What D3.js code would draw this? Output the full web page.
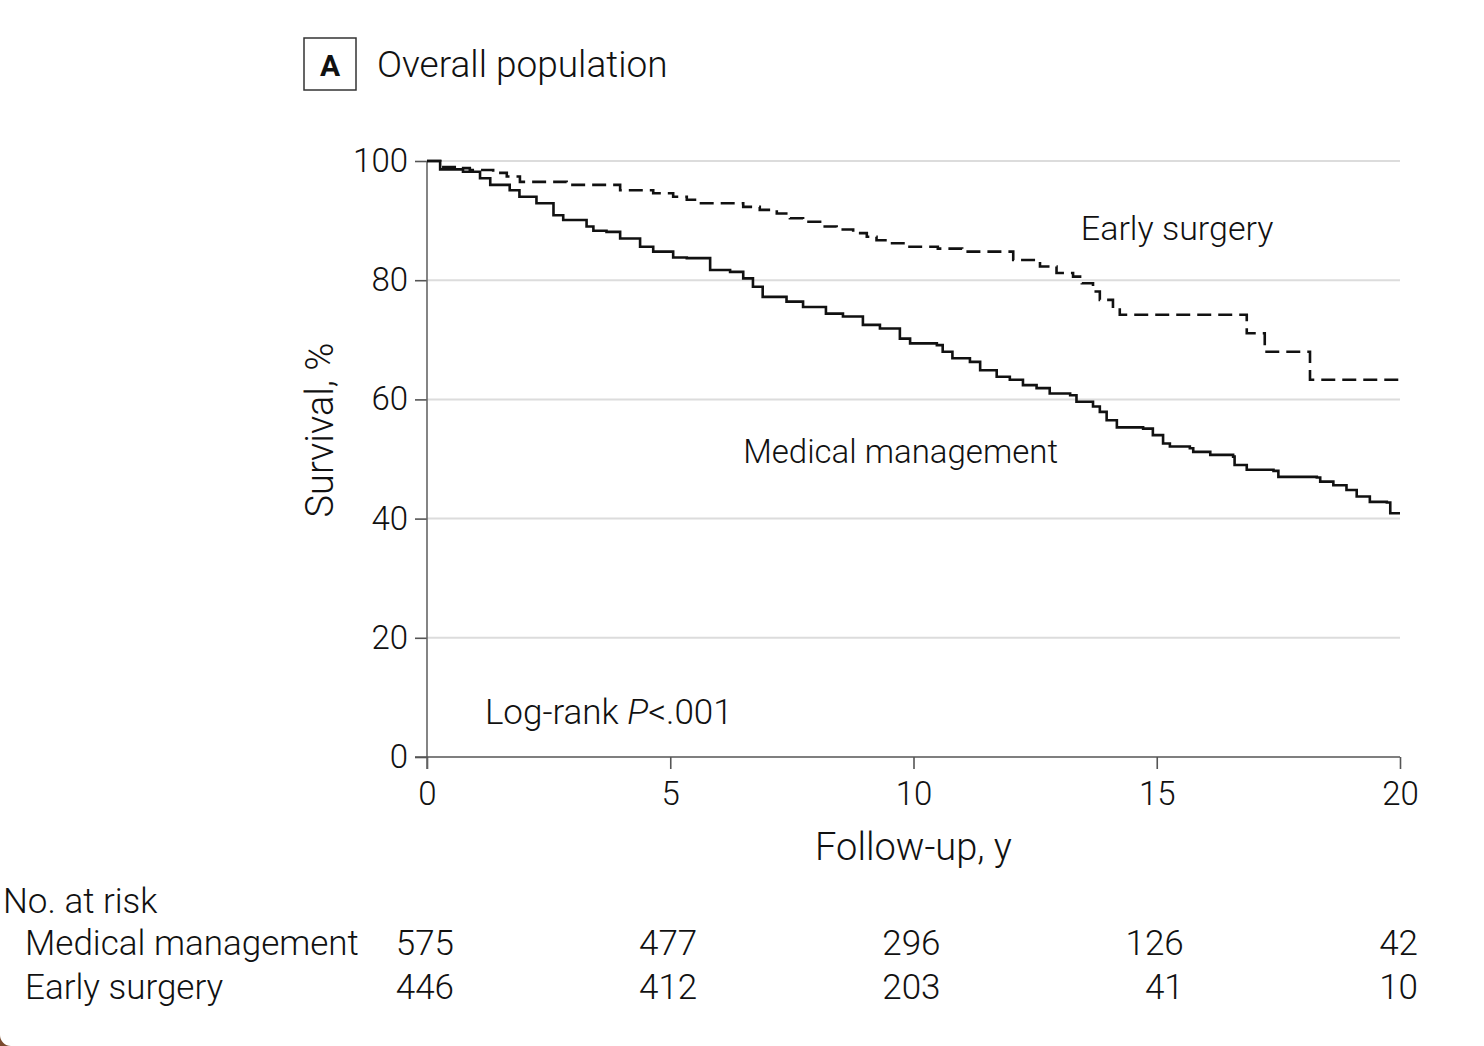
<!DOCTYPE html>
<html>
<head>
<meta charset="utf-8">
<script src="https://cdn.jsdelivr.net/npm/d3@7"></script>
<style>
  body { margin: 0; background: #fff; }
  svg text { font-family: Roboto, "Noto Sans", sans-serif; fill: #111; }
</style>
</head>
<body>
<svg id="chart"></svg>
<script>
// Kaplan-Meier estimates (years, survival %)
var mmTime = [0, 0.27, 0.74, 1.09, 1.3, 1.7, 1.9, 2.25, 2.6, 2.8, 3.28, 3.42, 3.69, 3.97, 4.38, 4.65, 5.06, 5.34, 5.82, 6.23,
  6.5, 6.7, 6.9, 7.39, 7.73, 8.2, 8.55, 8.96, 9.31, 9.72, 9.93, 10.48, 10.6, 10.8, 11.16, 11.37, 11.71, 11.98, 12.25, 12.53,
  12.8, 13.22, 13.35, 13.69, 13.83, 13.97, 14.18, 14.72, 14.92, 15.13, 15.27, 15.68, 15.75, 16.1, 16.57, 16.6, 16.85, 17.4, 17.5, 18.29,
  18.36, 18.63, 18.9, 19.11, 19.38, 19.73, 19.8, 20];
var mmSurv = [100, 98.6, 98.2, 97.1, 96, 95.1, 94, 92.9, 90.9, 90.1, 89, 88.3, 88.1, 87, 85.6, 84.8, 83.8, 83.7, 81.7, 81.4,
  80.3, 78.9, 77.2, 76.4, 75.5, 74.4, 73.9, 72.5, 71.9, 70.2, 69.4, 69.1, 68, 66.9, 66.3, 64.9, 63.8, 63.3, 62.4, 61.9,
  61, 60.7, 59.6, 58.8, 57.9, 56.5, 55.3, 55.1, 54, 52.6, 52.1, 51.8, 51.2, 50.7, 50.4, 49, 48.2, 48, 47, 46.9,
  46.2, 45.6, 44.8, 43.7, 42.8, 42.7, 40.9, 40.9];

var esTime = [0, 0.27, 0.6, 0.88, 1.36, 1.64, 1.91, 2.87, 3.97, 4.65, 5.06, 5.34, 5.54, 6.5, 6.84, 7.19, 7.46, 7.73, 8.08, 8.42, 8.76, 9.04,
  9.24, 9.52, 9.86, 10.5, 11.0, 12.05, 12.6, 12.94, 13.28, 13.46, 13.69, 13.83, 14.1, 14.24, 16.85, 17.22, 18.15, 20];
var esSurv = [100, 99, 98.8, 98.5, 98, 97.4, 96.5, 96, 95.1, 94.6, 94, 93.5, 92.9, 92.3, 91.8, 91.2, 90.4, 89.8, 89, 88.5, 87.9, 87.3,
  86.7, 86.2, 85.6, 85.3, 84.8, 83.4, 82.3, 81.2, 80.6, 79.5, 78.1, 76.7, 75.3, 74.2, 71.1, 68, 63.3, 63.3];

var xTicks = [0, 5, 10, 15, 20];
var yTicks = [0, 20, 40, 60, 80, 100];
var riskGroups = ['Medical management', 'Early surgery'];
var riskMM = [575, 477, 296, 126, 42];
var riskES = [446, 412, 203, 41, 10];

var W = 1484, H = 1046;
var margin = {t:161, r:84, b:289, l:427};
var width = W - margin.l - margin.r,
	height = H - margin.t - margin.b;

var svg = d3.select('#chart').attr('width', W).attr('height', H);

// brown corner behind the rounded panel
svg.append('path').attr('d', 'M0,1035 A11,11 0 0 0 11,1046 L0,1046 Z').attr('fill', '#7a4a2e');

var x = d3.scaleLinear().domain([0, 20]).range([0, width]);
var y = d3.scaleLinear().domain([0, 100]).range([height, 0]);

var plot = svg.append('g').attr('transform', 'translate(' + margin.l + ',' + margin.t + ')');

// gridlines
plot.selectAll('.grid').data(yTicks.filter(function(d){ return d > 0; }))
	.enter().append('line')
	.attr('x1', 0).attr('x2', width)
	.attr('y1', function(d){ return y(d); }).attr('y2', function(d){ return y(d); })
	.style('stroke', '#dcdcdc').style('stroke-width', '2px');

// axes
var yAxis = plot.append('g').call(d3.axisLeft(y).tickValues(yTicks).tickSize(12).tickPadding(7));
var xAxis = plot.append('g').attr('transform', 'translate(0,' + height + ')')
	.call(d3.axisBottom(x).tickValues(xTicks).tickSize(12).tickPadding(13));
[yAxis, xAxis].forEach(function(ax){
	ax.select('.domain').remove();
	ax.selectAll('line').style('stroke', '#555').style('stroke-width', '1.6px');
	ax.selectAll('text').style('font-family', 'Roboto').style('font-size', '33px')
		.style('font-weight', 300).style('fill', '#111');
});
plot.append('line').attr('x1', 0).attr('x2', 0).attr('y1', 0).attr('y2', height + 12)
	.style('stroke', '#666').style('stroke-width', '1.6px');
plot.append('line').attr('x1', -12).attr('x2', width).attr('y1', height).attr('y2', height)
	.style('stroke', '#555').style('stroke-width', '1.6px');

// curves
var line = d3.line()
	.x(function(d){ return x(d[0]); })
	.y(function(d){ return y(d[1]); })
	.curve(d3.curveStepAfter);

plot.append('path').datum(d3.zip(mmTime, mmSurv))
	.attr('d', line).attr('fill', 'none')
	.style('stroke', '#111').style('stroke-width', '2.6px');

plot.append('path').datum(d3.zip(esTime, esSurv))
	.attr('d', line).attr('fill', 'none')
	.style('stroke', '#111').style('stroke-width', '2.6px')
	.style('stroke-dasharray', '14,7');

// labels in the plot
plot.append('text').attr('x', x(13.44)).attr('y', y(86.8)).style('font-size', '34px').style('font-weight', 300).text('Early surgery');
plot.append('text').attr('x', x(6.5)).attr('y', y(49.3)).style('font-size', '33px').style('font-weight', 300).text('Medical management');
var lr = plot.append('text').attr('x', x(1.19)).attr('y', y(5.5)).style('font-size', '35px').style('font-weight', 300);
lr.append('tspan').text('Log-rank ');
lr.append('tspan').style('font-style', 'italic').text('P');
lr.append('tspan').text('<.001');

// axis titles
plot.append('text').attr('x', x(10)).attr('y', height + 103).attr('text-anchor', 'middle')
	.style('font-size', '38px').style('font-weight', 300).text('Follow-up, y');
plot.append('text').attr('transform', 'translate(-94,' + (height / 2 - 29) + ') rotate(-90)')
	.attr('text-anchor', 'middle').style('font-size', '38px').style('font-weight', 300).text('Survival, %');

// panel title
svg.append('rect').attr('x', 304).attr('y', 38).attr('width', 52).attr('height', 52)
	.attr('fill', 'none').style('stroke', '#333').style('stroke-width', '1.5px');
svg.append('text').attr('x', 330).attr('y', 76).attr('text-anchor', 'middle')
	.style('font-size', '30px').style('font-weight', 'bold').text('A');
svg.append('text').attr('x', 377).attr('y', 77).style('font-size', '37px').style('font-weight', 300).text('Overall population');

// number at risk table
svg.append('text').attr('x', 3).attr('y', 913).style('font-size', '35px').style('font-weight', 300).text('No. at risk');
var rows = [riskMM, riskES];
rows.forEach(function(vals, i){
	var ry = 955 + i * 44;
	svg.append('text').attr('x', 25).attr('y', ry).style('font-size', '35px').style('font-weight', 300).text(riskGroups[i]);
	svg.selectAll('.risk' + i).data(vals).enter().append('text')
		.attr('x', function(d, j){ return margin.l + x(xTicks[j]) + (j === xTicks.length - 1 ? 18 : 27); })
		.attr('y', ry).attr('text-anchor', 'end')
		.style('font-size', '35px').style('font-weight', 300)
		.text(function(d){ return d; });
});
</script>
</body>
</html>
